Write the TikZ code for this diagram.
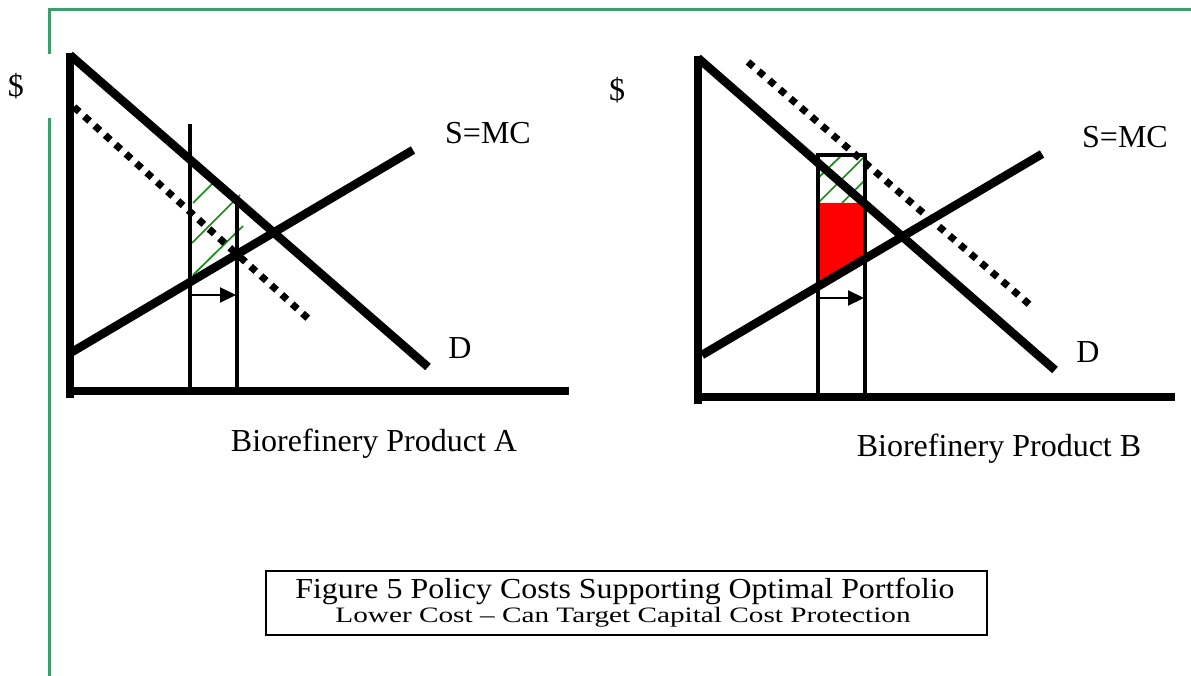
\documentclass[tikz,border=0pt]{standalone}
\usepackage{fontspec}
\setmainfont{Liberation Serif}
\usetikzlibrary{arrows.meta}
\definecolor{framegreen}{RGB}{60,158,110}
\definecolor{hatchgreen}{RGB}{20,140,20}
\begin{document}
\begin{tikzpicture}[x=1pt,y=-1pt,
  axisline/.style={line width=7.5pt},
  curve/.style={line width=8.5pt},
  vline/.style={line width=4.5pt},
  dotline/.style={line width=7pt, dash pattern=on 7pt off 7pt},
  hatch/.style={draw=hatchgreen, line width=1.7pt},
  shiftarrow/.style={line width=2.2pt, -{Triangle[length=16pt,width=15pt]}},
  lbl/.style={font=\fontsize{32}{38}\selectfont, inner sep=0pt},
  frameline/.style={draw=framegreen, line width=3pt}]
\useasboundingbox (0,0) rectangle (1191,676);

% green frame
\coordinate (F1) at (49,676);
\coordinate (F2) at (49,118);
\coordinate (F3) at (49,54);
\coordinate (F4) at (49,10);
\coordinate (F5) at (1191,10);
\draw[frameline] (F1) -- (F2);
\draw[frameline] (F3) -- (F4) -- (F5);

% ---------- Chart A ----------
\coordinate (Aytop) at (70,53);
\coordinate (Aybot) at (70,398);
\coordinate (Axl) at (67,391);
\coordinate (Axr) at (569,391);
\coordinate (AD1) at (70,55);
\coordinate (AD2) at (428,367);
\coordinate (AS1) at (72,352);
\coordinate (AS2) at (413,150);
\coordinate (AP1) at (74,107);
\coordinate (AP2) at (312,322);
\coordinate (AV1t) at (190,124);
\coordinate (AV1b) at (190,391);
\coordinate (AV2t) at (237,199);
\coordinate (AV2b) at (237,391);
\coordinate (AR1) at (192,295);
\coordinate (AR2) at (236,295);

\draw[hatch] (193,203) -- (213,183);
\draw[hatch] (192,243) -- (240,195);
\draw[hatch] (193,275) -- (243,226);

\draw[axisline] (Aytop) -- (Aybot);
\draw[axisline] (Axl) -- (Axr);
\draw[vline] (AV1t) -- (AV1b);
\draw[vline] (AV2t) -- (AV2b);
\draw[dotline] (AP1) -- (AP2);
\draw[curve] (AD1) -- (AD2);
\draw[curve] (AS1) -- (AS2);
\draw[shiftarrow] (AR1) -- (AR2);

\node[lbl] (Adollar) at (16,86) {\$};
\node[lbl] (ASMC) at (488,133) {S=MC};
\node[lbl] (AD) at (460,348) {D};
\node[lbl] (Atitle) at (374,444) {Biorefinery Product A};

% ---------- Chart B ----------
\coordinate (Bytop) at (698,56);
\coordinate (Bybot) at (698,404);
\coordinate (Bxl) at (695,397);
\coordinate (Bxr) at (1175,397);
\coordinate (BD1) at (698,58);
\coordinate (BD2) at (1055,370);
\coordinate (BS1) at (702,355);
\coordinate (BS2) at (1042,154);
\coordinate (BP1) at (748,62);
\coordinate (BP2) at (1030,305);
\coordinate (BV1t) at (818,155);
\coordinate (BV1b) at (818,397);
\coordinate (BV2t) at (865,155);
\coordinate (BV2b) at (865,397);
\coordinate (BR1) at (820,298);
\coordinate (BR2) at (864,298);

\fill[red] (818,203) -- (865,203) -- (865,257) -- (818,283) -- cycle;
\draw[hatch] (818,178) -- (842,155);
\draw[hatch] (818,203) -- (866,155);
\draw[hatch] (842,203) -- (866,179);

\draw[axisline] (Bytop) -- (Bybot);
\draw[axisline] (Bxl) -- (Bxr);
\draw[vline] (BV1b) -- (BV1t) -- (BV2t) -- (BV2b);
\draw[dotline] (BP1) -- (BP2);
\draw[curve] (BD1) -- (BD2);
\draw[curve] (BS1) -- (BS2);
\draw[shiftarrow] (BR1) -- (BR2);

\node[lbl] (Bdollar) at (617,90) {\$};
\node[lbl] (BSMC) at (1125,137) {S=MC};
\node[lbl] (BD) at (1088,352) {D};
\node[lbl] (Btitle) at (999,449) {Biorefinery Product B};

% ---------- Caption ----------
\node[draw, line width=2.5pt, minimum width=721pt, minimum height=64pt, inner sep=0pt] (capbox) at (626.5,603) {};
\node[inner sep=0pt, xscale=1.10, font=\fontsize{29}{32}\selectfont] (cap1) at (625,591) {Figure 5 Policy Costs Supporting Optimal Portfolio};
\node[inner sep=0pt, xscale=1.33, font=\fontsize{22}{25}\selectfont] (cap2) at (623,617) {Lower Cost -- Can Target Capital Cost Protection};
\end{tikzpicture}
\end{document}
